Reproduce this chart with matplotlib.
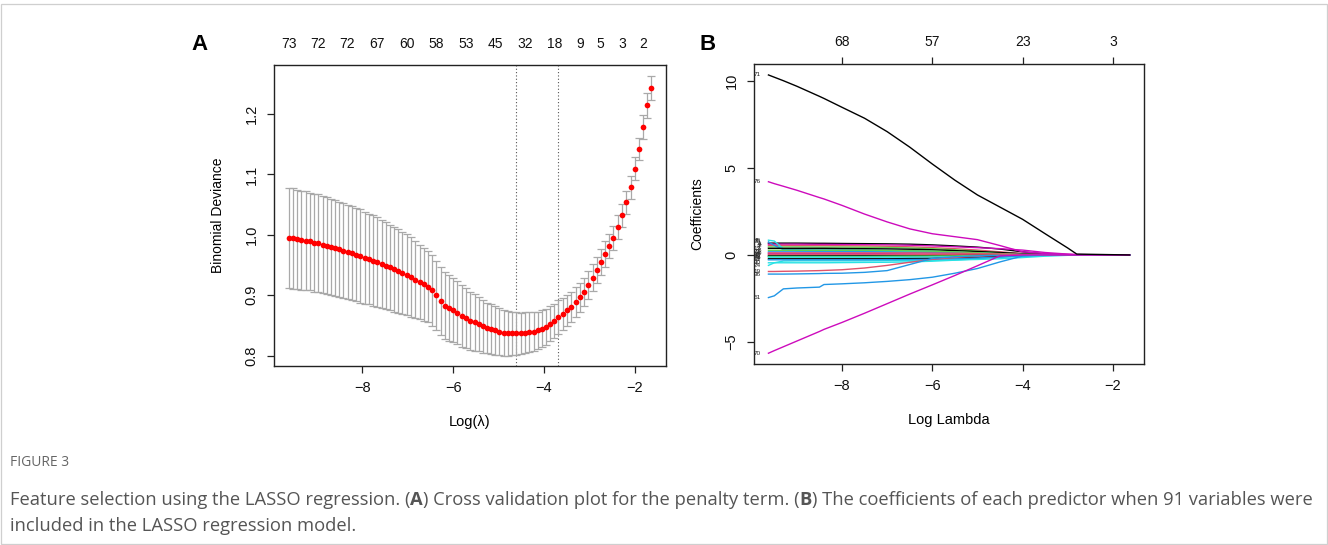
import matplotlib
matplotlib.use("Agg")
import matplotlib.pyplot as plt
from matplotlib.patches import Rectangle

plt.rcParams['font.family'] = ['Liberation Sans', 'DejaVu Sans']

# ---------------- Panel A data (cross-validation curve) ----------------
log_lambda = [-9.63, -9.53, -9.44, -9.35, -9.25, -9.16, -9.07, -8.98, -8.88, -8.79,
              -8.70, -8.60, -8.51, -8.42, -8.33, -8.23, -8.14, -8.05, -7.95, -7.86,
              -7.77, -7.67, -7.58, -7.49, -7.39, -7.30, -7.21, -7.12, -7.02, -6.93,
              -6.84, -6.74, -6.65, -6.56, -6.46, -6.37, -6.28, -6.19, -6.09, -6.00,
              -5.91, -5.81, -5.72, -5.63, -5.53, -5.44, -5.35, -5.26, -5.16, -5.07,
              -4.98, -4.88, -4.79, -4.70, -4.61, -4.51, -4.42, -4.33, -4.23, -4.14,
              -4.05, -3.95, -3.86, -3.77, -3.68, -3.58, -3.49, -3.40, -3.30, -3.21,
              -3.12, -3.03, -2.93, -2.84, -2.75, -2.65, -2.56, -2.47, -2.37, -2.28,
              -2.19, -2.09, -2.00, -1.91, -1.82, -1.72, -1.63]

cv_mean = [0.995, 0.994, 0.993, 0.991, 0.990, 0.989, 0.987, 0.986, 0.984, 0.982,
           0.980, 0.978, 0.976, 0.974, 0.972, 0.970, 0.967, 0.965, 0.962, 0.960,
           0.957, 0.955, 0.952, 0.949, 0.946, 0.943, 0.940, 0.937, 0.934, 0.930,
           0.926, 0.922, 0.918, 0.914, 0.908, 0.900, 0.891, 0.883, 0.879, 0.876,
           0.871, 0.866, 0.862, 0.858, 0.855, 0.852, 0.849, 0.846, 0.844, 0.842,
           0.840, 0.838, 0.837, 0.837, 0.837, 0.837, 0.838, 0.839, 0.840, 0.842,
           0.845, 0.848, 0.853, 0.858, 0.864, 0.869, 0.875, 0.881, 0.889, 0.897,
           0.906, 0.917, 0.929, 0.942, 0.955, 0.968, 0.981, 0.995, 1.013, 1.032,
           1.054, 1.079, 1.109, 1.142, 1.179, 1.214, 1.243]

cv_se = [0.083, 0.083, 0.082, 0.082, 0.082, 0.081, 0.081, 0.081, 0.080, 0.080,
         0.080, 0.079, 0.079, 0.079, 0.078, 0.078, 0.077, 0.077, 0.076, 0.075,
         0.075, 0.074, 0.073, 0.072, 0.071, 0.070, 0.069, 0.068, 0.067, 0.066,
         0.064, 0.062, 0.060, 0.059, 0.058, 0.057, 0.056, 0.055, 0.054, 0.053,
         0.052, 0.051, 0.050, 0.048, 0.047, 0.045, 0.044, 0.042, 0.041, 0.040,
         0.039, 0.038, 0.037, 0.036, 0.035, 0.034, 0.034, 0.033, 0.032, 0.031,
         0.031, 0.030, 0.029, 0.028, 0.028, 0.027, 0.026, 0.025, 0.025, 0.024,
         0.023, 0.023, 0.022, 0.022, 0.021, 0.021, 0.020, 0.020, 0.020, 0.019,
         0.019, 0.019, 0.019, 0.019, 0.020, 0.020, 0.020]

nz_label_idx = [0, 7, 14, 21, 28, 35, 42, 49, 56, 63, 69, 74, 79, 84]
nz_labels = ['73', '72', '72', '67', '60', '58', '53', '45', '32', '18', '9', '5', '3', '2']
log_lambda_min = -4.61
log_lambda_1se = -3.68
a_xticks = [-8, -6, -4, -2]
a_yticks = [0.8, 0.9, 1.0, 1.1, 1.2]

# ---------------- Panel B data (coefficient paths) ----------------
knots = [-9.63, -9.5, -9.3, -9.0, -8.5, -8.4, -8.0, -7.5, -7.0, -6.5,
         -6.0, -5.5, -5.0, -4.5, -4.0, -3.5, -3.0, -2.8, -1.63]

coef_71 = [10.35, 10.22, 10.02, 9.70, 9.12, 9.00, 8.49, 7.86, 7.09, 6.20,
           5.23, 4.30, 3.45, 2.75, 2.05, 1.22, 0.40, 0.05, 0.0]
coef_76 = [4.21, 4.10, 3.95, 3.72, 3.30, 3.22, 2.85, 2.35, 1.90, 1.50,
           1.22, 1.05, 0.88, 0.54, 0.18, 0.08, 0.04, 0.02, 0.0]
coef_70 = [-5.65, -5.50, -5.28, -4.95, -4.40, -4.28, -3.88, -3.35, -2.80, -2.25,
           -1.72, -1.18, -0.62, -0.05, 0.0, 0.0, 0.0, 0.0, 0.0]
coef_51 = [-2.45, -2.35, -1.95, -1.90, -1.85, -1.70, -1.66, -1.60, -1.52, -1.42,
           -1.28, -1.05, -0.78, -0.40, -0.06, 0.0, 0.0, 0.0, 0.0]

minor_labels = ['1', '6', '2', '3', '45', '28', '13', '22', '9', '17', '40',
                '33', '5', '14', '24', '30', '61', '8', '19', '36', '11']
minor_paths = [
    [0.68, 0.68, 0.68, 0.68, 0.67, 0.67, 0.66, 0.65, 0.64, 0.62, 0.58, 0.52, 0.45, 0.34, 0.18, 0.06, 0.01, 0.0, 0.0],
    [0.62, 0.62, 0.62, 0.62, 0.61, 0.61, 0.60, 0.59, 0.58, 0.56, 0.52, 0.47, 0.42, 0.36, 0.28, 0.14, 0.05, 0.02, 0.0],
    [0.55, 0.55, 0.55, 0.54, 0.54, 0.54, 0.53, 0.52, 0.50, 0.47, 0.42, 0.36, 0.28, 0.18, 0.08, 0.02, 0.0, 0.0, 0.0],
    [0.46, 0.46, 0.46, 0.46, 0.45, 0.45, 0.45, 0.44, 0.43, 0.40, 0.36, 0.30, 0.22, 0.13, 0.05, 0.01, 0.0, 0.0, 0.0],
    [0.85, 0.80, 0.35, 0.25, 0.22, 0.22, 0.21, 0.20, 0.19, 0.17, 0.14, 0.10, 0.06, 0.03, 0.0, 0.0, 0.0, 0.0, 0.0],
    [0.75, 0.55, 0.30, 0.30, 0.29, 0.29, 0.29, 0.28, 0.27, 0.25, 0.22, 0.17, 0.12, 0.06, 0.01, 0.0, 0.0, 0.0, 0.0],
    [0.38, 0.38, 0.38, 0.38, 0.38, 0.38, 0.37, 0.36, 0.35, 0.33, 0.30, 0.25, 0.20, 0.14, 0.07, 0.02, 0.0, 0.0, 0.0],
    [0.18, 0.18, 0.18, 0.18, 0.18, 0.18, 0.18, 0.18, 0.17, 0.16, 0.15, 0.13, 0.10, 0.07, 0.03, 0.01, 0.0, 0.0, 0.0],
    [0.08, 0.08, 0.08, 0.08, 0.08, 0.08, 0.08, 0.08, 0.07, 0.06, 0.05, 0.04, 0.03, 0.01, 0.0, 0.0, 0.0, 0.0, 0.0],
    [0.02, 0.02, 0.02, 0.02, 0.02, 0.02, 0.02, 0.02, 0.02, 0.02, 0.02, 0.01, 0.01, 0.01, 0.0, 0.0, 0.0, 0.0, 0.0],
    [-0.05, -0.05, -0.05, -0.05, -0.05, -0.05, -0.05, -0.05, -0.05, -0.05, -0.04, -0.04, -0.03, -0.02, -0.01, 0.0, 0.0, 0.0, 0.0],
    [-0.09, -0.09, -0.09, -0.09, -0.09, -0.09, -0.09, -0.09, -0.08, -0.07, -0.06, -0.05, -0.03, -0.01, 0.0, 0.0, 0.0, 0.0, 0.0],
    [-0.13, -0.13, -0.13, -0.13, -0.13, -0.13, -0.13, -0.13, -0.13, -0.13, -0.12, -0.12, -0.12, -0.10, -0.07, -0.03, -0.01, 0.0, 0.0],
    [-0.22, -0.22, -0.22, -0.22, -0.22, -0.22, -0.22, -0.22, -0.22, -0.21, -0.20, -0.16, -0.12, -0.06, -0.02, 0.0, 0.0, 0.0, 0.0],
    [-0.60, -0.45, -0.35, -0.34, -0.34, -0.34, -0.34, -0.34, -0.33, -0.32, -0.31, -0.29, -0.26, -0.22, -0.15, -0.07, -0.02, 0.0, 0.0],
    [-0.45, -0.45, -0.45, -0.45, -0.45, -0.45, -0.44, -0.43, -0.42, -0.40, -0.36, -0.30, -0.22, -0.14, -0.06, -0.02, 0.0, 0.0, 0.0],
    [-0.28, -0.28, -0.28, -0.28, -0.28, -0.28, -0.28, -0.28, -0.27, -0.26, -0.25, -0.22, -0.18, -0.12, -0.05, -0.01, 0.0, 0.0, 0.0],
    [0.27, 0.27, 0.27, 0.27, 0.27, 0.27, 0.27, 0.27, 0.26, 0.24, 0.22, 0.18, 0.13, 0.08, 0.03, 0.0, 0.0, 0.0, 0.0],
    [-0.95, -0.95, -0.94, -0.93, -0.90, -0.89, -0.85, -0.75, -0.60, -0.42, -0.25, -0.14, -0.08, -0.02, 0.0, 0.0, 0.0, 0.0, 0.0],
    [-1.10, -1.10, -1.10, -1.09, -1.07, -1.06, -1.05, -1.00, -0.90, -0.55, -0.20, -0.10, -0.05, -0.01, 0.0, 0.0, 0.0, 0.0, 0.0],
    [0.12, 0.12, 0.12, 0.12, 0.12, 0.12, 0.12, 0.12, 0.12, 0.12, 0.11, 0.10, 0.08, 0.06, 0.03, 0.01, 0.0, 0.0, 0.0],
]
b_xticks = [-8, -6, -4, -2]
b_top_df = ['68', '57', '23', '3']
b_yticks = [-5, 0, 5, 10]

caption_head = 'FIGURE 3'
caption_line1 = [('Feature selection using the LASSO regression. (', 'normal'), ('A', 'bold'),
                 (') Cross validation plot for the penalty term. (', 'normal'), ('B', 'bold'),
                 (') The coefficients of each predictor when 91 variables were', 'normal')]
caption_line2 = [('included in the LASSO regression model.', 'normal')]

# ---------------- styles ----------------
W, H = 1328, 545
r_pal = ['#000000', '#DF536B', '#61D04F', '#2297E6', '#28E2E5', '#CD0BBC']
minor_colors = [r_pal[0], r_pal[5], r_pal[1], r_pal[2], r_pal[4], r_pal[3], r_pal[0], r_pal[3],
                r_pal[5], r_pal[1], r_pal[0], r_pal[2], r_pal[4], r_pal[0], r_pal[4], r_pal[4],
                r_pal[3], r_pal[2], r_pal[1], r_pal[3], r_pal[1]]
spine_col = '#222222'

fig = plt.figure(figsize=(W / 100, H / 100), dpi=100)
fig.patch.set_facecolor('white')


def px_axes(l, r, t, b):
    return fig.add_axes([l / W, 1 - b / H, (r - l) / W, (b - t) / H])


def style_axes(ax):
    for s in ax.spines.values():
        s.set_color(spine_col)
        s.set_linewidth(1.0)
    ax.tick_params(direction='out', length=5, width=0.9, color=spine_col,
                   labelsize=10.5, pad=6, labelcolor='#111111')


# ---------------- Panel A ----------------
axA = px_axes(274, 666, 65, 366)
style_axes(axA)
axA.errorbar(log_lambda, cv_mean, yerr=cv_se, fmt='none', ecolor='#a9a9a9',
             elinewidth=0.9, capsize=2.8, capthick=0.9, zorder=2)
axA.plot(log_lambda, cv_mean, 'o', color='#ff0000', markersize=4.1,
         markeredgewidth=0, zorder=3)
for v in (log_lambda_min, log_lambda_1se):
    axA.axvline(v, color='#555555', linestyle=(0, (1, 2)), linewidth=0.8, zorder=1)
axA.set_xlim(-9.95, -1.31)
axA.set_ylim(0.783, 1.281)
axA.set_xticks(a_xticks)
axA.set_xticklabels([str(t).replace('-', '\u2212') for t in a_xticks])
axA.set_yticks(a_yticks)
axA.set_yticklabels([f'{t:.1f}' for t in a_yticks], rotation=90, va='center')
axA.set_xlabel('Log(\u03bb)', fontsize=10.5, labelpad=14)
axA.set_ylabel('Binomial Deviance', fontsize=10, labelpad=14)
topA = axA.twiny()
topA.set_xlim(axA.get_xlim())
topA.set_xticks([log_lambda[i] for i in nz_label_idx])
topA.set_xticklabels(nz_labels)
topA.tick_params(length=0, labelsize=10, pad=10, labelcolor='#111111')
for s in topA.spines.values():
    s.set_visible(False)

# ---------------- Panel B ----------------
axB = px_axes(754, 1144, 64, 364)
style_axes(axB)
for vals, col in zip(minor_paths, minor_colors):
    axB.plot(knots, vals, color=col, linewidth=1.0, zorder=2)
axB.plot(knots, coef_51, color=r_pal[3], linewidth=1.0, zorder=3)
axB.plot(knots, coef_70, color=r_pal[5], linewidth=1.0, zorder=3)
axB.plot(knots, coef_76, color=r_pal[5], linewidth=1.0, zorder=3)
axB.plot(knots, coef_71, color=r_pal[0], linewidth=1.0, zorder=3)
lab_x = -9.80
for lab, vals in [('71', coef_71), ('76', coef_76), ('70', coef_70), ('51', coef_51)] + \
        list(zip(minor_labels, minor_paths)):
    axB.text(lab_x, vals[0], lab, fontsize=4.6, ha='right', va='center', clip_on=True,
             color='#222222')
axB.set_xlim(-9.95, -1.31)
axB.set_ylim(-6.27, 10.98)
axB.set_xticks(b_xticks)
axB.set_xticklabels([str(t).replace('-', '\u2212') for t in b_xticks])
axB.set_yticks(b_yticks)
axB.set_yticklabels([str(t).replace('-', '\u2212') for t in b_yticks], rotation=90, va='center')
axB.set_xlabel('Log Lambda', fontsize=10.5, labelpad=14)
axB.set_ylabel('Coefficients', fontsize=10, labelpad=15)
topB = axB.twiny()
topB.set_xlim(axB.get_xlim())
topB.set_xticks(b_xticks)
topB.set_xticklabels(b_top_df)
topB.tick_params(direction='out', length=5, width=0.9, color=spine_col, labelsize=10,
                 pad=6, labelcolor='#111111')
for s in topB.spines.values():
    s.set_visible(False)

# panel letters
fig.text(199 / W, 1 - 44 / H, 'A', fontsize=16, fontweight='bold', ha='center', va='center')
fig.text(708 / W, 1 - 44 / H, 'B', fontsize=16, fontweight='bold', ha='center', va='center')

# ---------------- caption ----------------
cap_font = ['Open Sans', 'DejaVu Sans']
cap_col = '#555555'
fig.text(10 / W, 1 - 462 / H, caption_head, fontsize=10, color='#666666', family=cap_font,
         ha='left', va='center')
fig.canvas.draw()
renderer = fig.canvas.get_renderer()


def rich_line(x_px, y_px, pieces, size):
    x = x_px
    for txt, wt in pieces:
        t = fig.text(x / W, 1 - y_px / H, txt, fontsize=size, fontweight=wt,
                     color=cap_col, family=cap_font, ha='left', va='center')
        bb = t.get_window_extent(renderer=renderer)
        x = bb.x1


rich_line(10, 500, caption_line1, 13.2)
rich_line(10, 526, caption_line2, 13.2)

fig.add_artist(Rectangle((0.6 / W, 0.6 / H), 1 - 1.6 / W, 1 - 5 / H, transform=fig.transFigure,
                         fill=False, edgecolor='#cfcfcf', linewidth=0.9))

fig.savefig('out.png', dpi=100, facecolor='white')
